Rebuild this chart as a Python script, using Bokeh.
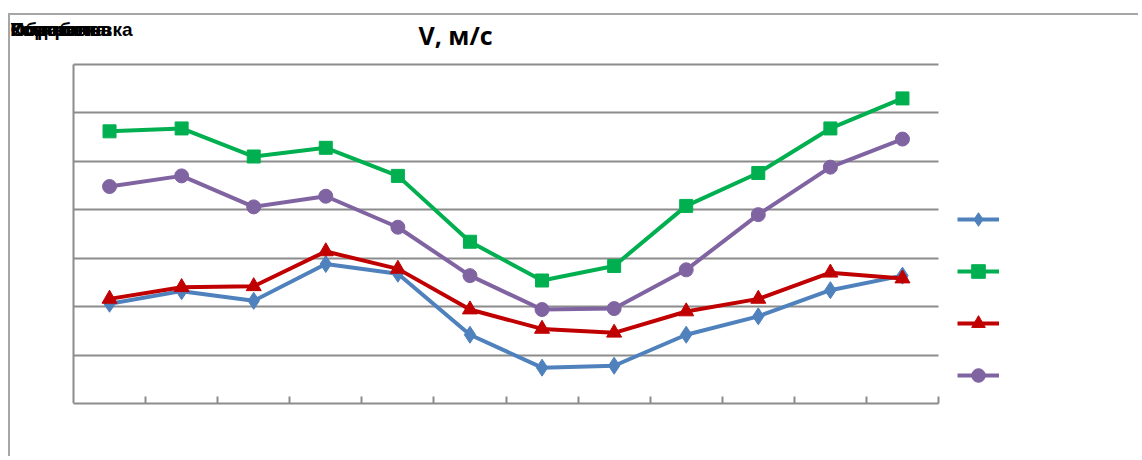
from bokeh.plotting import figure
from bokeh.models import (Range1d, FixedTicker, Label, Legend, LegendItem)
from bokeh.embed import file_html
from bokeh.resources import INLINE

# ---- data ----
points = [1, 2, 3, 4, 5, 6, 7, 8, 9, 10, 11, 12]
series_blue = [1.03, 1.16, 1.06, 1.44, 1.34, 0.71, 0.37, 0.39, 0.71, 0.90, 1.17, 1.32]
series_green = [2.81, 2.84, 2.55, 2.64, 2.35, 1.67, 1.27, 1.42, 2.04, 2.38, 2.84, 3.15]
series_red = [1.08, 1.20, 1.21, 1.57, 1.39, 0.97, 0.77, 0.73, 0.95, 1.08, 1.35, 1.29]
series_purple = [2.24, 2.35, 2.03, 2.14, 1.82, 1.32, 0.97, 0.98, 1.38, 1.95, 2.44, 2.73]
y_ticks = [0, 0.5, 1.0, 1.5, 2.0, 2.5, 3.0, 3.5]
x_ticks = [1.5, 2.5, 3.5, 4.5, 5.5, 6.5, 7.5, 8.5, 9.5, 10.5, 11.5, 12.5]
title_text = "V, м/с"
corner_texts = ["Контроль", "Обработка", "Установка", "Подстановка"]

# ---- layout geometry (page pixels) ----
W, H = 1130, 443            # canvas; it sits at page (10, 15) behind a 2px CSS frame
CAN_L, CAN_T = 10, 15
PLOT_L, PLOT_R, PLOT_T, PLOT_B = 73, 938, 64, 403
X0, X1 = 0.5, 12.5
Y0, Y1 = 0.0, 3.5
BOTTOM = CAN_T + H - PLOT_B  # space for the category axis

px_x = (PLOT_R - PLOT_L) / (X1 - X0)
px_y = (PLOT_B - PLOT_T) / (Y1 - Y0)
x_start = X0 - (PLOT_L - CAN_L) / px_x
x_end = X1 + (CAN_L + W - PLOT_R) / px_x
y_end = Y0 + (PLOT_B - CAN_T) / px_y


def dx(px):
    return X0 + (px - PLOT_L) / px_x


def dy(py):
    return Y0 + (PLOT_B - py) / px_y


GRID = "#8c8c8c"

p = figure(width=W, height=H, output_backend="svg", toolbar_location=None,
           x_range=Range1d(x_start, x_end), y_range=Range1d(Y0, y_end),
           min_border=0, min_border_bottom=BOTTOM, title=None)
p.outline_line_color = None
p.background_fill_color = "white"
p.border_fill_color = "white"
p.styles = {"margin-left": "8px", "margin-top": "13px",
            "border-left": "2px solid #a6a6a6", "border-top": "2px solid #a6a6a6"}

# category axis (bottom)
p.xaxis.ticker = FixedTicker(ticks=x_ticks)
p.xaxis.bounds = (X0, X1)
p.xaxis.major_label_text_font_size = "0px"
p.xaxis.major_tick_in = 7
p.xaxis.major_tick_out = 0
p.xaxis.minor_tick_line_color = None
p.xaxis.axis_line_color = GRID
p.xaxis.axis_line_width = 2
p.xaxis.major_tick_line_color = GRID
p.xaxis.major_tick_line_width = 2

p.yaxis.visible = False

# value grid + left boundary line
p.ygrid.ticker = FixedTicker(ticks=y_ticks)
p.ygrid.grid_line_color = GRID
p.ygrid.grid_line_width = 2
p.xgrid.ticker = FixedTicker(ticks=[X0])
p.xgrid.grid_line_color = GRID
p.xgrid.grid_line_width = 2
try:
    p.ygrid.cross_bounds = (X0, X1)
    p.xgrid.cross_bounds = (Y0, Y1)
except Exception:
    p.ygrid.visible = False
    p.xgrid.visible = False
    p.segment(x0=[X0] * len(y_ticks), x1=[X1] * len(y_ticks), y0=y_ticks, y1=y_ticks,
              line_color=GRID, line_width=2)
    p.segment(x0=[X0], x1=[X0], y0=[Y0], y1=[Y1], line_color=GRID, line_width=2)

series = [
    (series_blue, "#4F81BD", "diamond", 17),
    (series_green, "#00B050", "square", 13),
    (series_red, "#C00000", "triangle", 15),
    (series_purple, "#8064A2", "circle", 14),
]
items = []
for vals, col, mk, sz in series:
    r1 = p.line(points, vals, line_color=col, line_width=4)
    r2 = p.scatter(points, vals, marker=mk, size=sz, fill_color=col, line_color=col)
    items.append(LegendItem(label=" ", renderers=[r1, r2]))

legend = Legend(items=items, location=(957 - CAN_L, PLOT_B - 392), padding=0, margin=0,
                glyph_width=42, glyph_height=34, label_height=34, spacing=18,
                border_line_color=None, background_fill_alpha=0,
                label_text_font_size="10px", label_standoff=0, label_width=10)
p.add_layout(legend, "center")

p.add_layout(Label(x=dx(455), y=dy(34), text=title_text, text_align="center",
                   text_baseline="middle", text_font="Open Sans", text_font_style="bold",
                   text_font_size="25px", text_color="black"))
for t in corner_texts:
    p.add_layout(Label(x=dx(CAN_L), y=dy(29), text=t, text_align="left",
                       text_baseline="middle", text_font="Liberation Sans",
                       text_font_style="bold", text_font_size="19px", text_color="black"))

open("out.html", "w").write(file_html(p, INLINE))
